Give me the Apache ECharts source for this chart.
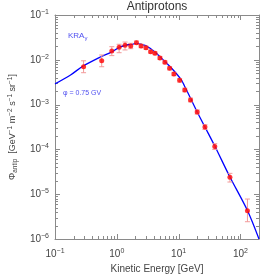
<!DOCTYPE html>
<html><head><meta charset="utf-8">
<script src="https://cdn.jsdelivr.net/npm/echarts@6/dist/echarts.min.js"></script>
<style>html,body{margin:0;padding:0;background:#fff}#c{width:275px;height:275px}</style>
</head><body><div id="c"></div>
<script>
// Data (PAMELA-like antiproton flux)
var energies = [0.29,0.57,0.83,1.09,1.36,1.68,2.08,2.47,2.97,3.53,4.15,4.99,6.01,7.16,8.40,10.4,12.6,15.6,20.0,26.7,38.5,67.7,130];
var flux = [7.0e-3,9.5e-3,1.57e-2,1.90e-2,2.11e-2,2.03e-2,2.41e-2,2.03e-2,1.86e-2,1.52e-2,1.40e-2,1.10e-2,8.8e-3,6.46e-3,4.82e-3,3.48e-3,2.12e-3,1.27e-3,6.84e-4,3.16e-4,1.16e-4,2.38e-5,4.28e-6];
var errLow = [5.15e-3,7.0e-3,1.24e-2,1.44e-2,1.66e-2,1.77e-2,2.20e-2,1.86e-2,1.72e-2,1.41e-2,1.30e-2,1.02e-2,8.15e-3,5.95e-3,4.42e-3,3.18e-3,1.93e-3,1.15e-3,6.15e-4,2.80e-4,1.00e-4,1.87e-5,2.43e-6];
var errHigh = [9.5e-3,1.28e-2,1.96e-2,2.22e-2,2.49e-2,2.33e-2,2.64e-2,2.22e-2,2.01e-2,1.64e-2,1.51e-2,1.19e-2,9.5e-3,7.0e-3,5.25e-3,3.8e-3,2.33e-3,1.40e-3,7.6e-4,3.55e-4,1.34e-4,2.92e-5,7.8e-6];
var modelE = [0.1,0.181,0.286,0.552,0.8,1.16,1.68,2.1,2.94,3.5,4.26,5.8,7.91,10.8,13.0,20,26.7,38.5,67.7,130,200];
var modelFlux = [2.9e-3,4.65e-3,7.28e-3,1.17e-2,1.47e-2,1.96e-2,2.22e-2,2.30e-2,2.08e-2,1.78e-2,1.43e-2,9.55e-3,6.24e-3,3.73e-3,2.31e-3,6.84e-4,3.16e-4,1.19e-4,2.42e-5,4.33e-6,1e-6];
var xMajor = [0.1,1,10,100];
var xMinor = [0.2,0.3,0.4,0.5,0.6,0.7,0.8,0.9,2,3,4,5,6,7,8,9,20,30,40,50,60,70,80,90,200];
var yMajor = [1e-6,1e-5,1e-4,1e-3,1e-2,1e-1];
var yMinor = [];
[1e-6,1e-5,1e-4,1e-3,1e-2].forEach(function(d){for(var k=2;k<=9;k++){yMinor.push(+(d*k).toPrecision(3));}});

var pts = energies.map(function(e,i){return [e, flux[i]];});
var bars = energies.map(function(e,i){return [e, errLow[i], errHigh[i]];});
var model = modelE.map(function(e,i){return [e, modelFlux[i]];});

var FONT = 'Liberation Sans';
var axisCol = '#8a8a8a';
var labCol = '#444';
function expFmt(v){ var e = Math.round(Math.log10(v)); return '10{s|' + (e<0?'\u2212'+(-e):e) + '}'; }
var supRich = { s: { fontSize: 7, padding: [0,0,6,0], color: labCol, fontFamily: FONT } };

function mkX(pos, withLabel){
  return {
    type: 'log', logBase: 10, min: 0.1, max: 200, position: pos, gridIndex: 0,
    axisLine: { show: true, lineStyle: { color: axisCol, width: 1 } },
    axisTick: { show: false },
    axisLabel: withLabel ? { show: true, customValues: xMajor, formatter: expFmt, rich: supRich, color: labCol, fontSize: 10, fontFamily: FONT, margin: 9 } : { show: false },
    splitLine: { show: false }, minorTick: { show: false },
    name: withLabel ? 'Kinetic Energy [GeV]' : '', nameLocation: 'middle', nameGap: 24,
    nameTextStyle: { color: labCol, fontSize: 10, fontFamily: FONT }
  };
}
function mkY(pos, withLabel){
  return {
    type: 'log', logBase: 10, min: 1e-6, max: 0.1, position: pos, gridIndex: 0,
    axisLine: { show: true, lineStyle: { color: axisCol, width: 1 } },
    axisTick: { show: false },
    axisLabel: withLabel ? { show: true, customValues: yMajor, formatter: expFmt, rich: supRich, color: labCol, fontSize: 10, fontFamily: FONT, margin: 6 } : { show: false },
    splitLine: { show: false }, minorTick: { show: false },
    name: withLabel ? '\u03A6{b|antip}  [GeV{s|\u22121} m{s|\u22122} s{s|\u22121} sr{s|\u22121}]' : '',
    nameLocation: 'middle', nameGap: 29, nameRotate: 90,
    nameTextStyle: { color: labCol, fontSize: 9, fontFamily: FONT,
      rich: { s: { fontSize: 6.5, padding: [0,0,5,0], color: labCol, fontFamily: FONT },
              b: { fontSize: 6.5, padding: [5,0,0,0], color: labCol, fontFamily: FONT } } }
  };
}

function tickSeries(values, isX, L){
  var data = values.map(function(v){ return isX ? [v, 1e-3] : [1, v]; });
  return { type: 'custom', data: data, xAxisIndex: 0, yAxisIndex: 0,
    encode: { x: 0, y: 1 },
    renderItem: function(params, api){
      var cs = params.coordSys;
      var p = api.coord([api.value(0), api.value(1)]);
      var st = { stroke: axisCol, lineWidth: 1 };
      if (isX) {
        var x = Math.round(p[0]) + 0.5;
        return { type: 'group', children: [
          { type: 'line', shape: { x1: x, y1: cs.y + cs.height, x2: x, y2: cs.y + cs.height - L }, style: st },
          { type: 'line', shape: { x1: x, y1: cs.y, x2: x, y2: cs.y + L }, style: st } ] };
      } else {
        var y = Math.round(p[1]) + 0.5;
        return { type: 'group', children: [
          { type: 'line', shape: { x1: cs.x, y1: y, x2: cs.x + L, y2: y }, style: st },
          { type: 'line', shape: { x1: cs.x + cs.width, y1: y, x2: cs.x + cs.width - L, y2: y }, style: st } ] };
      }
    } };
}

var chart = echarts.init(document.getElementById('c'), null, { renderer: 'canvas' });
chart.setOption({
  animation: false,
  backgroundColor: '#fff',
  title: { text: 'Antiprotons', left: 157, textAlign: 'center', top: 1, padding: 0,
    textStyle: { fontSize: 12, fontWeight: 'normal', color: '#333', fontFamily: FONT } },
  grid: { left: 55, right: 16, top: 15, bottom: 36, outerBoundsMode: 'none', containLabel: false },
  xAxis: [ mkX('bottom', true), mkX('top', false) ],
  yAxis: [ mkY('left', true), mkY('right', false) ],
  graphic: [
    { type: 'text', left: 68, top: 32, style: { text: 'KRA{g|\u03B3}', fill: '#5050f0', fontSize: 8, fontFamily: FONT,
        rich: { g: { fontSize: 6, padding: [4,0,0,0], fill: '#5050f0', color: '#5050f0' } } } },
    { type: 'text', left: 63, top: 90, style: { text: '\u03C6 = 0.75 GV', fill: '#5050f0', fontSize: 7, fontFamily: FONT } }
  ],
  series: [
    tickSeries(xMajor, true, 5),
    tickSeries(xMinor, true, 3),
    tickSeries(yMajor, false, 5),
    tickSeries(yMinor, false, 3),
    { type: 'line', data: model, xAxisIndex: 0, yAxisIndex: 0, showSymbol: false, smooth: 0.3,
      lineStyle: { color: '#0000ff', width: 1.3 }, z: 3, silent: true },
    { type: 'custom', data: bars, xAxisIndex: 0, yAxisIndex: 0, z: 4, silent: true,
      encode: { x: 0, y: [1, 2] },
      renderItem: function(params, api){
        var x = api.value(0), lo = api.value(1), hi = api.value(2);
        var a = api.coord([x, lo]), b = api.coord([x, hi]);
        var st = { stroke: '#f29a9a', lineWidth: 1 };
        return { type: 'group', children: [
          { type: 'line', shape: { x1: a[0], y1: a[1], x2: b[0], y2: b[1] }, style: st },
          { type: 'line', shape: { x1: a[0]-2.5, y1: a[1], x2: a[0]+2.5, y2: a[1] }, style: st },
          { type: 'line', shape: { x1: b[0]-2.5, y1: b[1], x2: b[0]+2.5, y2: b[1] }, style: st }
        ]};
      } },
    { type: 'scatter', data: pts, xAxisIndex: 0, yAxisIndex: 0, symbol: 'circle', symbolSize: 5,
      itemStyle: { color: '#ff0000' }, z: 5, silent: true }
  ]
});
</script></body></html>
